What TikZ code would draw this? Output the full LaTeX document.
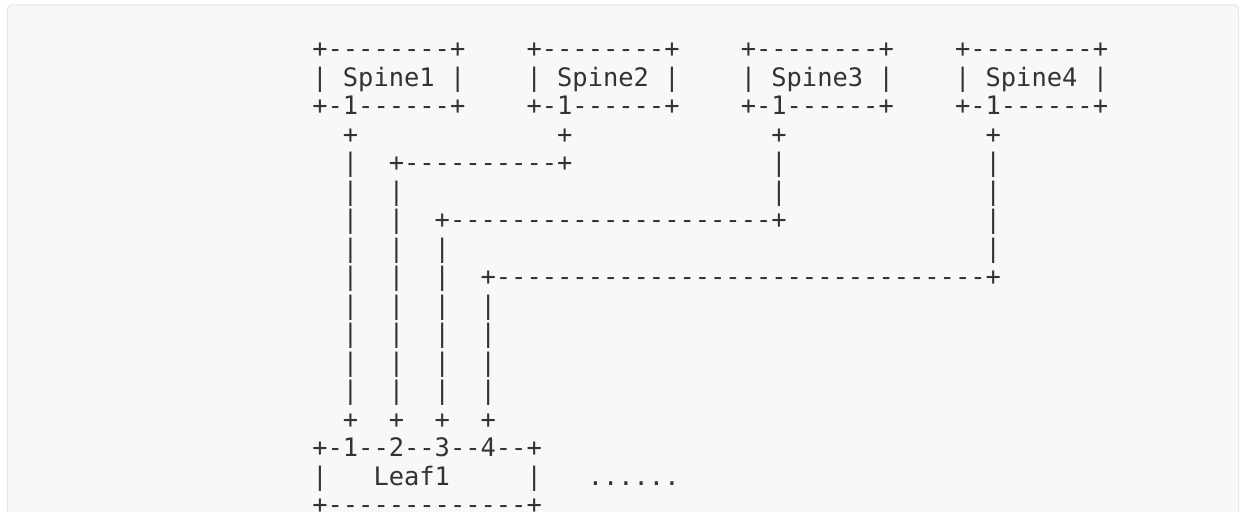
\documentclass[tikz,border=0pt]{standalone}
\usepackage{fontspec}
\setmonofont{DejaVu Sans Mono}
\definecolor{panelfill}{HTML}{F8F8F8}
\definecolor{panelline}{HTML}{E6E6E6}
\definecolor{textgray}{HTML}{333333}
\begin{document}
\begin{tikzpicture}[x=1pt,y=-1pt,
  asciirow/.style={anchor=base west, inner sep=0pt, outer sep=0pt,
    font=\ttfamily\fontsize{25.42}{28.5}\selectfont, text=textgray}]
\useasboundingbox (0,0) rectangle (1241,511);
\fill[white] (0,0) rectangle (1241,511);
\draw[panelline, fill=panelfill, line width=1pt, rounded corners=4pt]
  (7.5,5) rectangle (1238.5,540);
\node[asciirow] (r1)  at (312.3,57.5)  {+--------+~~~~+--------+~~~~+--------+~~~~+--------+};
\node[asciirow] (r2)  at (312.3,86.0)  {|~Spine1~|~~~~|~Spine2~|~~~~|~Spine3~|~~~~|~Spine4~|};
\node[asciirow] (r3)  at (312.3,114.5) {+-1------+~~~~+-1------+~~~~+-1------+~~~~+-1------+};
\node[asciirow] (r4)  at (312.3,143.0) {~~+~~~~~~~~~~~~~+~~~~~~~~~~~~~+~~~~~~~~~~~~~+};
\node[asciirow] (r5)  at (312.3,171.5) {~~|~~+----------+~~~~~~~~~~~~~|~~~~~~~~~~~~~|};
\node[asciirow] (r6)  at (312.3,200.0) {~~|~~|~~~~~~~~~~~~~~~~~~~~~~~~|~~~~~~~~~~~~~|};
\node[asciirow] (r7)  at (312.3,228.5) {~~|~~|~~+---------------------+~~~~~~~~~~~~~|};
\node[asciirow] (r8)  at (312.3,257.0) {~~|~~|~~|~~~~~~~~~~~~~~~~~~~~~~~~~~~~~~~~~~~|};
\node[asciirow] (r9)  at (312.3,285.5) {~~|~~|~~|~~+--------------------------------+};
\node[asciirow] (r10) at (312.3,314.0) {~~|~~|~~|~~|};
\node[asciirow] (r11) at (312.3,342.5) {~~|~~|~~|~~|};
\node[asciirow] (r12) at (312.3,371.0) {~~|~~|~~|~~|};
\node[asciirow] (r13) at (312.3,399.5) {~~|~~|~~|~~|};
\node[asciirow] (r14) at (312.3,428.0) {~~+~~+~~+~~+};
\node[asciirow] (r15) at (312.3,456.5) {+-1--2--3--4--+};
\node[asciirow] (r16) at (312.3,485.0) {|~~~Leaf1~~~~~|~~~......};
\node[asciirow] (r17) at (312.3,513.5) {+-------------+};
\end{tikzpicture}
\end{document}
